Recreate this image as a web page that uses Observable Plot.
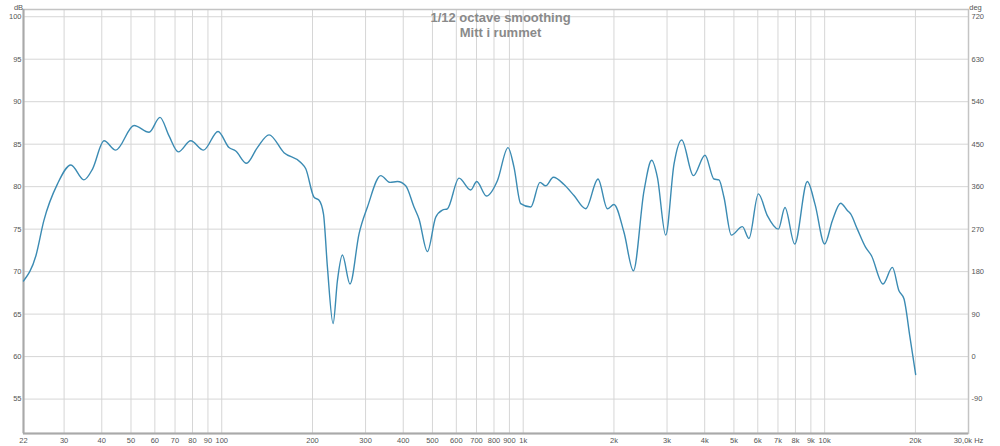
<!DOCTYPE html>
<html>
<head>
<meta charset="utf-8">
<script src="https://cdn.jsdelivr.net/npm/d3@7"></script>
<script src="https://cdn.jsdelivr.net/npm/@observablehq/plot@0.6"></script>
<style>
  html, body { margin: 0; padding: 0; background: #fff; }
  #chart { width: 1000px; height: 446px; }
</style>
</head>
<body>
<div id="chart"></div>
<script>
// ---- data ----
const titleLine1 = "1/12 octave smoothing";
const titleLine2 = "Mitt i rummet";

const freqHz = [22, 24.2, 25.7, 28.5, 31.6, 34.9, 37.3, 40.7, 44.5, 51.2, 57.4, 62.4, 66.8, 71.8, 78.9, 87.0, 97.2,
  105.7, 111.3, 120.8, 131.3, 143.5, 160.9, 182.8, 190, 202.4, 210.3, 217.5, 224.2, 234.1, 241.9, 251.3, 266.4,
  285.4, 304.3, 336.9, 361.6, 382.5, 407.7, 434.3, 451.2, 481.1, 512.6, 539.5, 560.5, 612.5, 669.8, 701.2, 755.1,
  821, 890.5, 932, 981, 1059, 1137, 1187, 1259, 1366, 1474, 1612, 1771, 1902, 2000, 2160, 2320, 2516, 2668, 2787,
  2969, 3164, 3356, 3668, 4009, 4293, 4460, 4634, 4903, 5333, 5609, 6027, 6454, 7021, 7385, 7953, 8761, 9287,
  10000, 10605, 11298, 11890, 12194, 12834, 13677, 14286, 15614, 16774, 17638, 18323, 19183, 20036];
const splDb = [68.9, 71.9, 76.0, 80.3, 82.55, 80.8, 82.1, 85.4, 84.3, 87.2, 86.4, 88.15, 86.0, 84.1, 85.4, 84.3, 86.5,
  84.6, 84.2, 82.75, 84.6, 86.1, 84.0, 82.85, 82.1, 78.75, 78.4, 76.8, 70.5, 63.9, 68.9, 71.95, 68.55,
  74.45, 77.6, 81.3, 80.5, 80.6, 80.1, 77.6, 76.2, 72.35, 76.4, 77.25, 77.4, 81.0, 79.6, 80.6, 78.9,
  80.7, 84.6, 82.3, 78.0, 77.6, 80.5, 80.1, 81.1, 80.25, 78.95, 77.4, 80.9, 77.4, 77.9, 74.6, 70.1, 79.5, 83.1, 81.1,
  74.3, 82.65, 85.5, 81.3, 83.7, 80.9, 80.8, 78.75, 74.3, 75.3, 73.9, 79.15, 76.6, 75.0, 77.55, 73.25, 80.6, 77.95,
  73.25, 76.0, 78.05, 77.2, 76.8, 75.0, 72.85, 71.9, 68.55, 70.5, 67.75, 66.8, 62.3, 57.9];

const xTicks = [22, 30, 40, 50, 60, 70, 80, 90, 100, 200, 300, 400, 500, 600, 700, 800, 900, 1000,
  2000, 3000, 4000, 5000, 6000, 7000, 8000, 9000, 10000, 20000, 30000];
const xTickLabels = ["22", "30", "40", "50", "60", "70", "80", "90", "100", "200", "300", "400", "500", "600", "700",
  "800", "900", "1k", "2k", "3k", "4k", "5k", "6k", "7k", "8k", "9k", "10k", "20k", "30,0k Hz"];
const yTicks = [55, 60, 65, 70, 75, 80, 85, 90, 95, 100];
const degTicks = [-90, 0, 90, 180, 270, 360, 450, 540, 630, 720];
const yUnit = "dB";
const degUnit = "deg";

// ---- build ----
const data = freqHz.map((f, i) => ({f, db: splDb[i]}));
const xLabel = new Map(xTicks.map((t, i) => [t, xTickLabels[i]]));
const degPos = degTicks.map(d => d / 18 + 60);
const yDomain = [50.95, 100.85];
const gridX = xTicks.filter(t => t > 22 && t < 30000);

const font = "'Liberation Sans', Arial, sans-serif";

const chart = Plot.plot({
  width: 1000,
  height: 446,
  marginLeft: 23,
  marginRight: 32,
  marginTop: 9,
  marginBottom: 13,
  style: {fontFamily: font, fontSize: "7.5px", color: "#555", background: "#fff", overflow: "visible"},
  x: {type: "log", domain: [22, 30000], axis: null},
  y: {domain: yDomain},
  marks: [
    Plot.ruleX(gridX, {stroke: "#d6d6d6", strokeWidth: 1}),
    Plot.ruleY(yTicks, {stroke: "#d6d6d6", strokeWidth: 1}),
    Plot.frame({stroke: "#c4c4c4", strokeWidth: 1.5}),
    Plot.ruleX([22], {stroke: "#a9a9a9", strokeWidth: 2}),
    Plot.ruleY([yDomain[0]], {stroke: "#a9a9a9", strokeWidth: 2}),
    Plot.line(data, {x: "f", y: "db", stroke: "#3b8bb3", strokeWidth: 1.4, curve: "monotone-x"}),
    Plot.text(xTicks, {x: d => d, text: d => xLabel.get(d), frameAnchor: "bottom", lineAnchor: "top",
      dy: 4, fill: "#555", fontSize: 7.5}),
    Plot.axisY({ticks: yTicks, tickSize: 0, tickPadding: 2, label: null, fill: "#555"}),
    Plot.axisY({anchor: "right", ticks: degPos, tickFormat: d => String(Math.round((d - 60) * 18)),
      tickSize: 0, tickPadding: 3, label: null, fill: "#555"}),
    Plot.text([yUnit], {frameAnchor: "top-left", textAnchor: "middle", dx: -5, dy: -5, fill: "#555", fontSize: 7.5}),
    Plot.text([degUnit], {frameAnchor: "top-right", textAnchor: "middle", dx: 7, dy: -5, fill: "#555", fontSize: 7.5}),
    Plot.text([titleLine1 + "\n" + titleLine2], {frameAnchor: "top", lineAnchor: "top", dx: 4.5, dy: 2.8,
      fontSize: 13, fontWeight: "bold", fill: "#8a8a8a", lineHeight: 1.1})
  ]
});
document.getElementById("chart").appendChild(chart);
</script>
</body>
</html>
